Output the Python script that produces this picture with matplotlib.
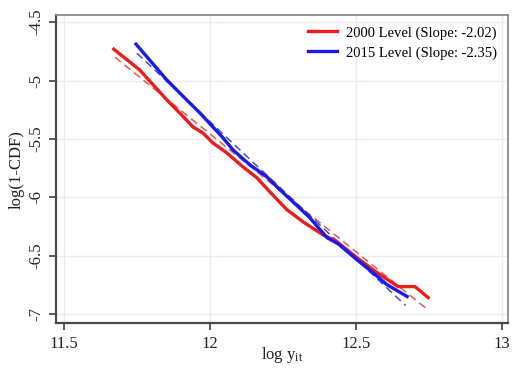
import matplotlib
matplotlib.use("Agg")
import matplotlib.pyplot as plt
import numpy as np

plt.rcParams['font.family'] = ['Liberation Serif', 'DejaVu Serif']
plt.rcParams['mathtext.fontset'] = 'stix'

# Data
red_x = [11.671, 11.760, 11.856, 11.897, 11.942, 11.976, 12.010, 12.058, 12.113,
         12.161, 12.205, 12.264, 12.318, 12.387, 12.435, 12.503, 12.572, 12.644,
         12.702, 12.747]
red_y = [-4.731, -4.910, -5.175, -5.278, -5.397, -5.449, -5.534, -5.620, -5.739,
         -5.833, -5.953, -6.107, -6.209, -6.321, -6.380, -6.517, -6.645, -6.765,
         -6.765, -6.859]
blue_x = [11.747, 11.853, 11.921, 11.966, 12.010, 12.045, 12.079, 12.137, 12.195,
          12.240, 12.284, 12.342, 12.401, 12.440, 12.503, 12.558, 12.606, 12.675]
blue_y = [-4.688, -4.996, -5.167, -5.278, -5.397, -5.491, -5.594, -5.722, -5.825,
          -5.936, -6.038, -6.175, -6.346, -6.400, -6.534, -6.645, -6.748, -6.850]

labels = ["2000 Level (Slope: -2.02)", "2015 Level (Slope: -2.35)"]
slopes = [-2.02, -2.35]
fit_x0 = [11.675, 11.75]
fit_y0 = [-4.80, -4.765]
fit_x1 = [12.747, 12.67]

xticks = [11.5, 12, 12.5, 13]
yticks = [-4.5, -5, -5.5, -6, -6.5, -7]
xticklabels = ["11.5", "12", "12.5", "13"]
yticklabels = ["-4.5", "-5", "-5.5", "-6", "-6.5", "-7"]

fig = plt.figure(figsize=(5.13, 3.70), dpi=100)
ax = fig.add_axes([0.109, 0.127, 0.881, 0.832])

ax.grid(True, color='#e6edf3', linewidth=1.0, zorder=0)
ax.set_axisbelow(True)

ax.plot(red_x, red_y, color='#ee1c1c', linewidth=2.4, label=labels[0], zorder=3)
ax.plot(blue_x, blue_y, color='#1a1aee', linewidth=2.4, label=labels[1], zorder=3)

fit_colors = ['#e05a5a', '#4a4ad8']
for i in range(2):
    xs = np.array([fit_x0[i], fit_x1[i]])
    ys = fit_y0[i] + slopes[i] * (xs - fit_x0[i])
    ax.plot(xs, ys, color=fit_colors[i], linewidth=1.1, linestyle=(0, (5, 3)), zorder=2)

ax.set_xlim(11.473, 13.02)
ax.set_ylim(-7.077, -4.44)
ax.set_xticks(xticks)
ax.set_xticklabels(xticklabels)
ax.set_yticks(yticks)
ax.set_yticklabels(yticklabels, rotation=90, va='center')

ax.tick_params(axis='both', direction='out', length=5, width=1.2, colors='#404040',
               labelsize=12, labelcolor='#222222')
ax.tick_params(axis='x', pad=4)
ax.tick_params(axis='y', pad=3)

for s in ['left', 'bottom']:
    ax.spines[s].set_color('#4a4a4a')
    ax.spines[s].set_linewidth(1.6)
for s in ['top', 'right']:
    ax.spines[s].set_color('#8a8a8a')
    ax.spines[s].set_linewidth(1.3)

ax.set_xlabel(r"log $\mathregular{y_{it}}$", fontsize=12, color='#222222', va='center')
ax.xaxis.set_label_coords(0.5, -0.104)
ax.set_ylabel("log(1-CDF)", fontsize=12, color='#222222', labelpad=3)

leg = ax.legend(loc='upper right', frameon=False, fontsize=10.5, handlelength=2.0,
                handletextpad=0.6, labelspacing=0.45, borderaxespad=0.35)

fig.savefig("out.png", dpi=100)
